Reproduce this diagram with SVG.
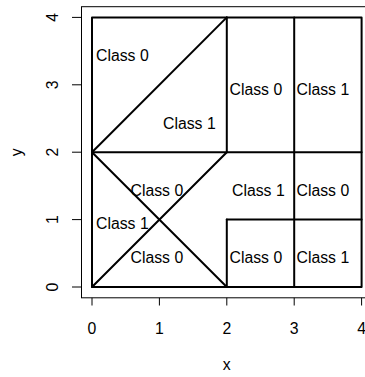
<svg xmlns="http://www.w3.org/2000/svg" width="365" height="377" viewBox="0 0 365 377">
<style>
text{font-family:"Liberation Sans",Arial,sans-serif;font-size:15.8px;fill:#000}
.frame{fill:none;stroke:#000;stroke-width:1}
.tick{stroke:#000;stroke-width:1}
.part{fill:none;stroke:#000;stroke-width:2;stroke-linecap:round;stroke-linejoin:round}
.mid{text-anchor:middle}
</style>
<rect width="365" height="377" fill="#fff"/>
<g id="axes">
<rect class="frame" x="81.5" y="6.7" width="291" height="291.1"/>
<g id="x-axis">
<line class="tick" x1="92" y1="297.8" x2="92" y2="305.5"/>
<line class="tick" x1="159.4" y1="297.8" x2="159.4" y2="305.5"/>
<line class="tick" x1="226.8" y1="297.8" x2="226.8" y2="305.5"/>
<line class="tick" x1="294.2" y1="297.8" x2="294.2" y2="305.5"/>
<line class="tick" x1="361.6" y1="297.8" x2="361.6" y2="305.5"/>
<text class="mid" x="92" y="333.5">0</text>
<text class="mid" x="159.4" y="333.5">1</text>
<text class="mid" x="226.8" y="333.5">2</text>
<text class="mid" x="294.2" y="333.5">3</text>
<text class="mid" x="361.6" y="333.5">4</text>
<text class="mid" x="226.8" y="369.5">x</text>
</g>
<g id="y-axis">
<line class="tick" x1="81.5" y1="287" x2="72" y2="287"/>
<line class="tick" x1="81.5" y1="219.6" x2="72" y2="219.6"/>
<line class="tick" x1="81.5" y1="152.2" x2="72" y2="152.2"/>
<line class="tick" x1="81.5" y1="84.8" x2="72" y2="84.8"/>
<line class="tick" x1="81.5" y1="17.4" x2="72" y2="17.4"/>
<text class="mid" transform="translate(57.5,287) rotate(-90)">0</text>
<text class="mid" transform="translate(57.5,219.6) rotate(-90)">1</text>
<text class="mid" transform="translate(57.5,152.2) rotate(-90)">2</text>
<text class="mid" transform="translate(57.5,84.8) rotate(-90)">3</text>
<text class="mid" transform="translate(57.5,17.4) rotate(-90)">4</text>
<text class="mid" transform="translate(21.5,152.2) rotate(-90)">y</text>
</g>
</g>
<g id="partition">
<rect class="part" x="92" y="17.4" width="269.6" height="269.6"/>
<line class="part" x1="92" y1="152.2" x2="361.6" y2="152.2"/>
<line class="part" x1="226.8" y1="17.4" x2="226.8" y2="152.2"/>
<line class="part" x1="294.2" y1="17.4" x2="294.2" y2="287"/>
<line class="part" x1="92" y1="152.2" x2="226.8" y2="17.4"/>
<line class="part" x1="92" y1="152.2" x2="226.8" y2="287"/>
<line class="part" x1="92" y1="287" x2="226.8" y2="152.2"/>
<line class="part" x1="226.8" y1="219.6" x2="361.6" y2="219.6"/>
<line class="part" x1="226.8" y1="219.6" x2="226.8" y2="287"/>
</g>
<g id="labels">
<text x="96" y="60.5">Class 0</text>
<text x="163" y="128.5">Class 1</text>
<text x="229.5" y="95">Class 0</text>
<text x="296.5" y="95">Class 1</text>
<text x="130.5" y="195.5">Class 0</text>
<text x="232" y="195.5">Class 1</text>
<text x="296.5" y="195.5">Class 0</text>
<text x="96" y="228.5">Class 1</text>
<text x="130.5" y="263">Class 0</text>
<text x="229.5" y="263">Class 0</text>
<text x="296.5" y="263">Class 1</text>
</g>
</svg>
